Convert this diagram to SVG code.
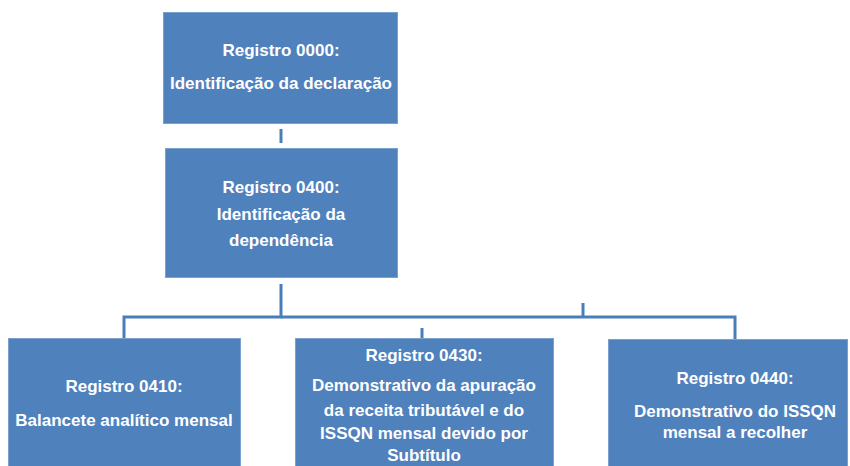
<svg xmlns="http://www.w3.org/2000/svg" width="850" height="466" viewBox="0 0 850 466">
<style>
.box{fill:#4f81bd;stroke:#7aa0d0;stroke-width:1}
.t{font-family:"Liberation Sans",Arial,sans-serif;font-weight:bold;font-size:17px;fill:#ffffff;text-anchor:middle}
.c{fill:none;stroke:#4a7ebb;stroke-width:3}
</style>
<rect width="850" height="466" fill="#ffffff"/>
<g id="connectors">
<line class="c" x1="281" y1="129" x2="281" y2="143" stroke="#3b6592"/>
<polyline class="c" points="281,284 281,317 124,317 124,350"/>
<polyline class="c" points="281,317 735,317 735,350"/>
<line class="c" x1="422" y1="328" x2="422" y2="350"/>
<line class="c" x1="583" y1="303" x2="583" y2="317" stroke-width="1.5"/>
</g>
<g id="n0000">
<rect class="box" x="163.5" y="12.5" width="234" height="111"/>
<text class="t" x="281" y="56">Registro 0000:</text>
<text class="t" x="281" y="89">Identificação da declaração</text>
</g>
<g id="n0400">
<rect class="box" x="165.5" y="148.5" width="232" height="129"/>
<text class="t" x="281" y="193">Registro 0400:</text>
<text class="t" x="281" y="220">Identificação da</text>
<text class="t" x="281" y="246">dependência</text>
</g>
<g id="n0410">
<rect class="box" x="8.5" y="338.5" width="232" height="132"/>
<text class="t" x="124" y="392">Registro 0410:</text>
<text class="t" x="124" y="426">Balancete analítico mensal</text>
</g>
<g id="n0430">
<rect class="box" x="295.5" y="338.5" width="258" height="132"/>
<text class="t" x="424" y="361">Registro 0430:</text>
<text class="t" x="424" y="391">Demonstrativo da apuração</text>
<text class="t" x="424" y="416">da receita tributável e do</text>
<text class="t" x="424" y="439">ISSQN mensal devido por</text>
<text class="t" x="424" y="461">Subtítulo</text>
</g>
<g id="n0440">
<rect class="box" x="608.5" y="339.5" width="239" height="132"/>
<text class="t" x="735" y="384">Registro 0440:</text>
<text class="t" x="735" y="417">Demonstrativo do ISSQN</text>
<text class="t" x="735" y="438">mensal a recolher</text>
</g>
</svg>
